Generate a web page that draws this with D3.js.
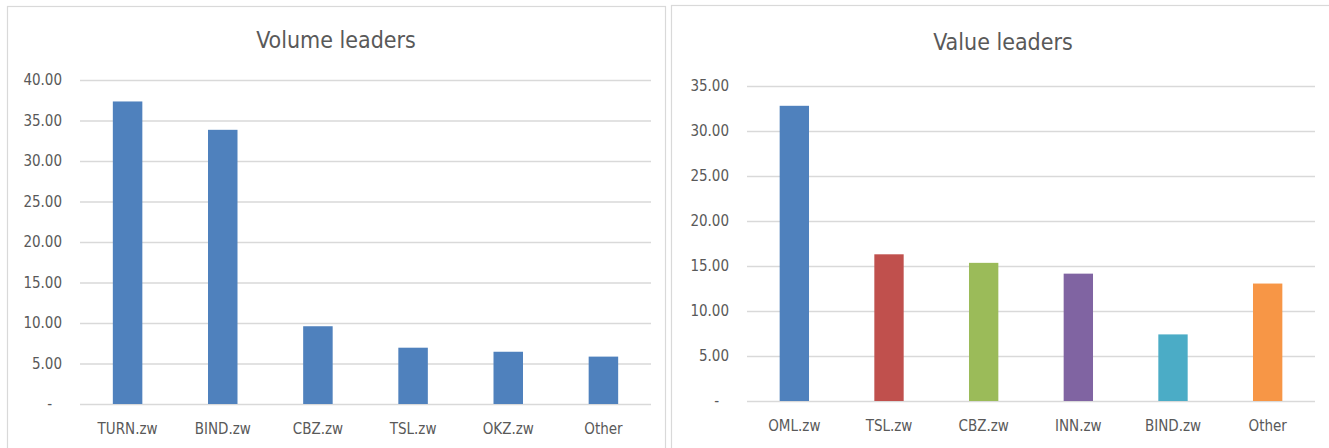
<!DOCTYPE html>
<html>
<head>
<meta charset="utf-8">
<script src="https://cdn.jsdelivr.net/npm/d3@7"></script>
<style>
  html, body { margin: 0; padding: 0; background: #ffffff; }
  svg { display: block; }
  text { font-family: "Liberation Sans Narrow", "DejaVu Sans Condensed", "Noto Sans", sans-serif; }
</style>
</head>
<body>
<div id="charts"></div>
<script>
// Volume leaders
const volumeCategories = ["TURN.zw", "BIND.zw", "CBZ.zw", "TSL.zw", "OKZ.zw", "Other"];
const volumeValues = [37.35, 33.85, 9.6, 6.95, 6.45, 5.85];
const volumeTicks = [0, 5, 10, 15, 20, 25, 30, 35, 40];

// Value leaders
const valueCategories = ["OML.zw", "TSL.zw", "CBZ.zw", "INN.zw", "BIND.zw", "Other"];
const valueValues = [32.8, 16.3, 15.35, 14.15, 7.4, 13.05];
const valueTicks = [0, 5, 10, 15, 20, 25, 30, 35];
const valueColors = ["#4f81bd", "#c0504d", "#9bbb59", "#8064a2", "#4bacc6", "#f79646"];


/*******************************/
/*    Declare the constants    */
/*******************************/
const width = 1329;
const height = 448;
const textColor = "#595959";
const gridColor = "#d9d9d9";
const tickFormat = d => d === 0 ? "-" : d3.format(".2f")(d);

const svg = d3.select("#charts")
  .append("svg")
    .attr("width", width)
    .attr("height", height)
    .attr("viewBox", `0 0 ${width} ${height}`);


const drawBarChart = (cfg) => {

  // Panel frame (bottom edge runs off the picture)
  svg.append("rect")
    .attr("x", cfg.panel.x + 0.5)
    .attr("y", cfg.panel.y + 0.5)
    .attr("width", cfg.panel.w)
    .attr("height", height)
    .attr("fill", "#ffffff")
    .attr("stroke", gridColor)
    .attr("stroke-width", 1.2);

  // Title
  svg.append("text")
    .attr("x", cfg.panel.x + cfg.panel.w / 2)
    .attr("y", cfg.titleY)
    .attr("text-anchor", "middle")
    .attr("font-size", 23)
    .attr("fill", textColor)
    .text(cfg.title);

  /****************************/
  /*    Declare the scales    */
  /****************************/
  const xScale = d3.scaleBand()
    .domain(cfg.categories)
    .range([cfg.left, cfg.right])
    .paddingInner(0.69)
    .paddingOuter(0.345);

  const yScale = d3.scaleLinear()
    .domain([0, d3.max(cfg.ticks)])
    .range([cfg.bottom, cfg.top]);

  /**************************/
  /*      Add the axes      */
  /**************************/
  const leftAxis = d3.axisLeft(yScale)
    .tickValues(cfg.ticks)
    .tickFormat(tickFormat)
    .tickSize(-(cfg.right - cfg.left))
    .tickPadding(18)
    .tickSizeOuter(0);
  const gy = svg.append("g")
    .attr("transform", `translate(${cfg.left}, 0)`)
    .call(leftAxis);
  gy.select(".domain").remove();
  gy.selectAll(".tick line")
    .attr("stroke", gridColor)
    .attr("stroke-width", 1.3);
  gy.selectAll(".tick text")
    .attr("fill", textColor)
    .attr("font-size", 15)
    .attr("dx", d => d === 0 ? -10 : 0);

  const bottomAxis = d3.axisBottom(xScale)
    .tickSize(0)
    .tickPadding(19);
  const gx = svg.append("g")
    .attr("transform", `translate(0, ${cfg.bottom})`)
    .call(bottomAxis);
  gx.select(".domain").remove();
  gx.selectAll(".tick text")
    .attr("fill", textColor)
    .attr("font-size", 15);

  /*******************************/
  /*      Append the bars        */
  /*******************************/
  svg.append("g")
    .selectAll("rect")
    .data(cfg.values)
    .join("rect")
      .attr("x", (d, i) => xScale(cfg.categories[i]))
      .attr("y", d => yScale(d))
      .attr("width", xScale.bandwidth())
      .attr("height", d => yScale(0) - yScale(d))
      .attr("fill", (d, i) => cfg.colors[i % cfg.colors.length]);
};


drawBarChart({
  title: "Volume leaders",
  categories: volumeCategories,
  values: volumeValues,
  ticks: volumeTicks,
  colors: ["#4f81bd"],
  panel: {x: 7, y: 6, w: 658},
  titleY: 48,
  left: 80, right: 651, top: 80, bottom: 404
});

drawBarChart({
  title: "Value leaders",
  categories: valueCategories,
  values: valueValues,
  ticks: valueTicks,
  colors: valueColors,
  panel: {x: 671, y: 5, w: 664},
  titleY: 50,
  left: 747, right: 1315, top: 86, bottom: 401
});
</script>
</body>
</html>
